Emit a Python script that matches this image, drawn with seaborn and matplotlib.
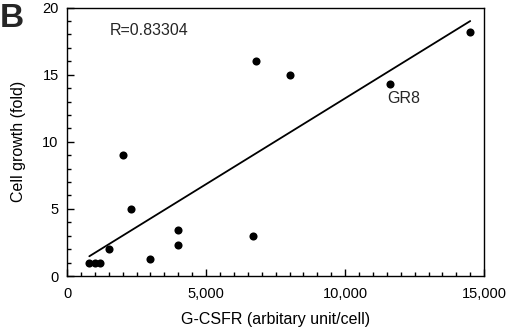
import numpy as np
import pandas as pd
import matplotlib
matplotlib.use('Agg')
import matplotlib.pyplot as plt
from matplotlib.ticker import MultipleLocator, FuncFormatter
import seaborn as sns

# G-CSFR expression vs cell growth
gcsfr = [800, 1000, 1200, 1500, 2000, 2300, 3000, 4000, 4000, 6700, 6800, 8000, 11600, 14500]
growth = [1.0, 1.0, 1.0, 2.0, 9.0, 5.0, 1.3, 3.4, 2.3, 3.0, 16.0, 15.0, 14.3, 18.2]
r_text = 'R=0.83304'
point_label = 'GR8'

df = pd.DataFrame({'G-CSFR': gcsfr, 'growth': growth})

sns.set_theme(style='ticks')
plt.rcParams['font.family'] = ['Liberation Sans', 'DejaVu Sans']

fig = plt.figure(figsize=(5.2, 3.29), dpi=100)
ax = fig.add_axes([0.129, 0.161, 0.802, 0.816])

sns.regplot(data=df, x='G-CSFR', y='growth', ci=None, ax=ax, truncate=True,
            scatter_kws={'s': 34, 'color': 'black', 'linewidths': 0, 'alpha': 1},
            line_kws={'color': 'black', 'linewidth': 1.3})

ax.set_xlim(0, 15000)
ax.set_ylim(0, 20)
ax.xaxis.set_major_locator(MultipleLocator(5000))
ax.xaxis.set_minor_locator(MultipleLocator(500))
ax.yaxis.set_major_locator(MultipleLocator(5))
ax.yaxis.set_minor_locator(MultipleLocator(1))
ax.xaxis.set_major_formatter(FuncFormatter(lambda v, p: f'{int(v):,}'))

ax.tick_params(which='both', direction='in', top=False, right=False,
               bottom=True, left=True, color='black', width=1)
ax.tick_params(which='major', length=5, labelsize=10.5, labelcolor='black')
ax.tick_params(axis='x', which='major', pad=8)
ax.tick_params(axis='y', which='major', pad=6)
ax.tick_params(which='minor', length=3)
for s in ax.spines.values():
    s.set_visible(True)
    s.set_color('black')
    s.set_linewidth(1)

ax.set_xlabel('G-CSFR (arbitary unit/cell)', fontsize=11.5, labelpad=8, color='black')
ax.set_ylabel('Cell growth (fold)', fontsize=11.5, labelpad=12, color='black')

ax.text(0.103, 0.896, r_text, transform=ax.transAxes, fontsize=11.5, va='baseline')
ax.text(gcsfr[12] - 100, 12.9, point_label, fontsize=11.5, va='baseline')
fig.text(0.0, 0.918, 'B', fontsize=24, fontweight='bold', va='baseline')

fig.savefig('out.png', dpi=100)
